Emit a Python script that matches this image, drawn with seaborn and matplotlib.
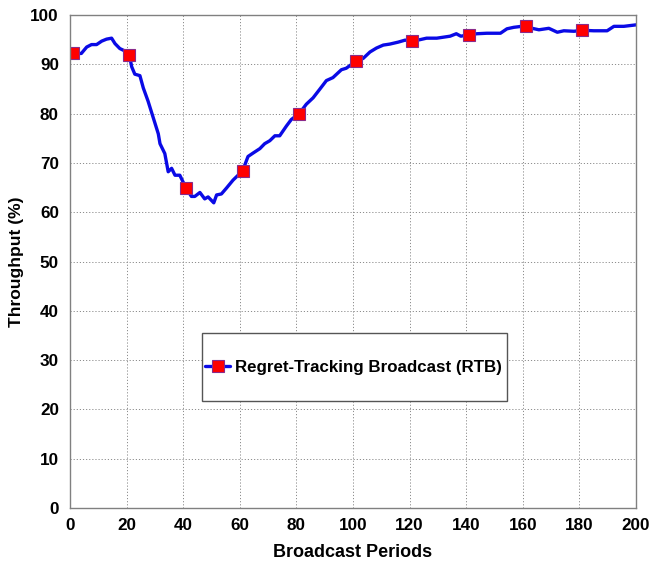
import matplotlib
matplotlib.use("Agg")
import matplotlib.pyplot as plt
import seaborn as sns
import pandas as pd
from matplotlib.patches import Rectangle

periods = [1, 4, 5.9, 7.6, 9.4, 11.2, 12.9, 14.7, 15.9, 17.6, 19.4, 21, 21.8, 22.9, 24.7, 25.9,
           27.6, 29.4, 31.2, 31.8, 33.5, 34.7, 35.9, 37.1, 38.8, 41, 42.9, 44.1, 45.9, 47.6,
           48.8, 50.8, 51.8, 53.5, 55.3, 57.6, 61, 62.9, 64.7, 67.1, 68.8, 70.6, 72.4, 74.1,
           76.5, 78.2, 81, 83.5, 85.9, 88.2, 90.6, 92.9, 95.9, 97.6, 101, 103.6, 106, 108.3,
           110.7, 113, 116, 118.4, 121, 123.7, 126, 129.6, 134.3, 136.5, 138.1, 141, 143.8,
           147.3, 152.1, 154.4, 156.8, 161, 163.3, 165.7, 169.2, 172.2, 174.5, 178.1, 181,
           185.1, 189.8, 192.2, 195.7, 200]
throughput = [92.2, 92.2, 93.5, 94.0, 94.0, 94.7, 95.1, 95.3, 94.2, 93.2, 92.7, 91.8, 89.5, 88.0,
              87.7, 85.2, 82.5, 79.2, 75.9, 73.9, 71.9, 68.2, 68.9, 67.5, 67.5, 64.9, 63.2, 63.2,
              64.0, 62.7, 63.1, 61.9, 63.5, 63.7, 64.9, 66.5, 68.4, 71.3, 72.0, 72.9, 73.9, 74.5,
              75.5, 75.5, 77.5, 78.8, 80.0, 81.9, 83.2, 84.9, 86.7, 87.3, 88.9, 89.2, 90.6, 91.2,
              92.5, 93.3, 93.9, 94.1, 94.5, 94.9, 94.7, 95.0, 95.3, 95.3, 95.7, 96.2, 95.7, 96.0,
              96.2, 96.3, 96.3, 97.2, 97.5, 97.8, 97.3, 97.0, 97.3, 96.5, 96.8, 96.7, 96.9, 96.8,
              96.8, 97.7, 97.7, 98.0]
marker_periods = [1, 21, 41, 61, 81, 101, 121, 141, 161, 181]
series_name = "Regret-Tracking Broadcast (RTB)"
x_ticks = list(range(0, 201, 20))
y_ticks = list(range(0, 101, 10))

sns.set_style("white")
plt.rcParams["font.family"] = ["Liberation Sans", "DejaVu Sans"]
plt.rcParams["font.weight"] = "bold"
plt.rcParams["text.color"] = "black"
plt.rcParams["axes.labelcolor"] = "black"
plt.rcParams["xtick.color"] = "black"
plt.rcParams["ytick.color"] = "black"

df = pd.DataFrame({"period": periods, "throughput": throughput})
mark_idx = [i for i, p in enumerate(periods) if p in marker_periods]

W, H = 650, 566
left, right, top, bottom = 70, 636, 15, 508
fig = plt.figure(figsize=(6.5, 5.66), dpi=100)
ax = fig.add_axes([left / W, 1 - bottom / H, (right - left) / W, (bottom - top) / H])
sns.lineplot(data=df, x="period", y="throughput", ax=ax, color="#0a0ae6", linewidth=2.4,
             marker="s", markersize=9, markerfacecolor="#ff0000", markeredgecolor="#8a2a8a",
             markeredgewidth=0.8, markevery=mark_idx, label=series_name, sort=False)

ax.set_xlim(0, 200)
ax.set_ylim(0, 100)
ax.set_xticks(x_ticks)
ax.set_yticks(y_ticks)
ax.tick_params(axis="both", labelsize=12.3, length=0, labelcolor="black")
ax.tick_params(axis="x", pad=7)
ax.tick_params(axis="y", pad=8)
ax.grid(True, linestyle=(0, (1.2, 2)), color="#8c8c8c", linewidth=0.7)
for s in ax.spines.values():
    s.set_color("#808080")
    s.set_linewidth(1.0)
ax.set_xlabel("Broadcast Periods", fontsize=13, fontweight="bold", color="black")
ax.set_ylabel("Throughput (%)", fontsize=12.5, fontweight="bold", color="black")
ax.xaxis.set_label_coords(0.5, -(544 - bottom) / (bottom - top))
ax.yaxis.set_label_coords(-(left - 24) / (right - left), 0.5)

# legend box (reference frame size) and legend entry
box = Rectangle((0.2325, 0.217), 0.539, 0.138, transform=ax.transAxes, facecolor="white",
                edgecolor="#555555", linewidth=1.0, zorder=4)
ax.add_patch(box)
leg = ax.legend(loc="center left", bbox_to_anchor=(0.2325, 0.286), frameon=False,
                handlelength=1.5, handletextpad=0.25, borderpad=0.2, borderaxespad=0,
                prop={"size": 12.2, "weight": "bold"}, labelcolor="black")
leg.set_zorder(5)

fig.savefig("out.png", dpi=100)
